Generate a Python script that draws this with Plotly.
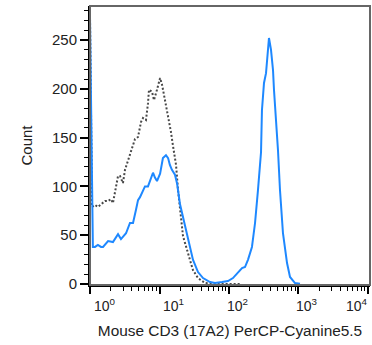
import math
import plotly.graph_objects as go

# Fluorescence (x) and event counts (y)
iso_x = [1.0, 1.0, 1.07, 1.18, 1.30, 1.44, 1.64, 1.82, 2.00, 2.14, 2.29, 2.45, 2.53, 2.70, 2.98,
         3.19, 3.52, 3.76, 4.02, 4.44, 4.91, 5.42, 5.79, 6.39, 6.83, 7.06, 7.80, 8.33, 9.20,
         10.2, 10.9, 12.0, 13.3, 14.6, 15.6, 17.3, 18.5, 19.7, 21.8, 24.9, 27.5, 30.3, 35.8,
         45.2, 62.9, 145]
iso_y = [0, 273, 79, 81, 79, 82, 85, 85, 87, 83, 94, 104.5, 110.6, 110.6, 103.5,
         117, 127, 132, 139, 148.5, 150.6, 166, 170, 168, 185, 199, 197, 188.5, 199,
         211, 204, 188.5, 171, 156, 142, 122, 96, 76, 49, 35, 25, 14.3, 6.1,
         1.0, 0, 0]

cd3_x = [1.0, 1.0, 1.10, 1.18, 1.30, 1.44, 1.54, 1.82, 2.14, 2.53, 2.79, 3.30, 3.76, 4.16,
         4.59, 4.91, 5.24, 5.60, 6.18, 6.83, 7.30, 7.80, 8.06, 8.60, 9.20, 10.2, 11.2, 12.4,
         13.3, 14.1, 15.1, 16.7, 17.9, 19.7, 21.8, 24.9, 27.5, 30.3, 35.8, 42.3, 53.3, 62.9,
         79.3, 96.8, 114, 135, 154, 170, 188, 214, 237, 261, 289, 298, 319, 341, 364, 376,
         402, 430, 444, 475, 507, 542, 598, 684, 755, 891, 1052]
cd3_y = [0, 273, 38, 38, 40, 38, 38, 44, 43, 51, 46, 52, 62.5, 62.5,
         76, 86, 89, 94, 100, 100, 105.5, 112, 114, 109, 105.5, 113, 129, 132,
         129, 122, 117, 112, 103, 82, 69, 50, 37, 25, 12.3, 6.1, 2.0, 1.0,
         2.0, 3.1, 6.1, 12.3, 16.4, 17.4, 25, 38, 62.5, 96, 135, 178, 206, 216, 240, 252,
         240, 219, 199, 168, 137, 96, 52, 21.5, 7.2, 1.0, 0.3]

x_tick_vals = [1, 10, 100, 1000, 10000]
x_tick_text = ["10<sup>0</sup>", "10<sup>1</sup>", "10<sup>2</sup>", "10<sup>3</sup>", "10<sup>4</sup>"]
x_label_shift = [15, 14, 9, 9, -11]
x_minor_vals = [m * d for d in [1, 10, 100, 1000] for m in range(2, 10)]
y_tick_vals = [0, 50, 100, 150, 200, 250]

FONT = "Liberation Sans"
TXT = "#222222"

fig = go.Figure()
fig.add_trace(go.Scatter(x=iso_x, y=iso_y, mode="lines",
                         line=dict(color="#484848", width=2, dash="2px,2px"),
                         showlegend=False, hoverinfo="skip"))
fig.add_trace(go.Scatter(x=cd3_x, y=cd3_y, mode="lines",
                         line=dict(color="#1E88FF", width=2),
                         showlegend=False, hoverinfo="skip"))

for v, t, s in zip(x_tick_vals, x_tick_text, x_label_shift):
    fig.add_annotation(x=math.log10(v), y=0, xref="x", yref="paper",
                       text=t, showarrow=False, xanchor="center", yanchor="top",
                       xshift=s, yshift=-9, font=dict(family=FONT, size=14, color=TXT))

# gray frame (top/right)
fig.add_shape(type="rect", xref="paper", yref="paper", x0=0, y0=0, x1=1, y1=1,
              line=dict(color="#666666", width=2))

fig.update_layout(
    width=372, height=345,
    margin=dict(l=90, r=2, t=6, b=60),
    paper_bgcolor="white", plot_bgcolor="white",
    font=dict(family=FONT, size=15, color=TXT),
    xaxis=dict(type="log", range=[0, 4.029], showgrid=False, zeroline=False,
               automargin=False,
               showline=True, linecolor="black", linewidth=2,
               tickmode="array", tickvals=x_tick_vals, showticklabels=False,
               ticks="outside", ticklen=7, tickwidth=2, tickcolor="black",
               minor=dict(tickmode="array", tickvals=x_minor_vals, ticks="outside",
                          ticklen=4, tickwidth=1, tickcolor="black"),
               title=dict(text="Mouse CD3 (17A2) PerCP-Cyanine5.5", standoff=32,
                          font=dict(family=FONT, size=15.4, color=TXT))),
    yaxis=dict(range=[-1, 284.8], showgrid=False, zeroline=False,
               automargin=False,
               showline=True, linecolor="black", linewidth=2,
               tickmode="array", tickvals=y_tick_vals,
               ticks="outside", ticklen=8, tickwidth=2, tickcolor="black",
               minor=dict(dtick=10, tick0=0, ticks="outside", ticklen=4, tickwidth=1,
                          tickcolor="black"),
               tickfont=dict(family=FONT, size=15, color=TXT),
               title=dict(text="Count", standoff=16,
                          font=dict(family=FONT, size=15, color=TXT))),
)

fig.write_html("out.html", config={"displayModeBar": False},
               post_script="document.body.style.margin='0';document.body.style.overflow='hidden';")
